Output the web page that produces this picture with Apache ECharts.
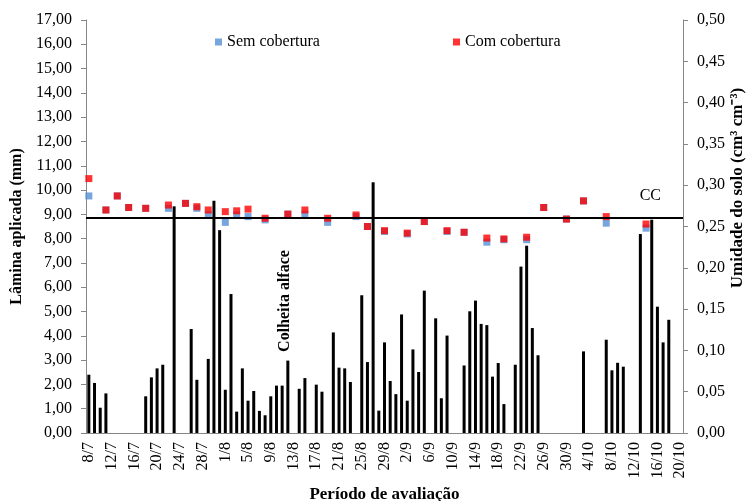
<!DOCTYPE html>
<html>
<head>
<meta charset="utf-8">
<script src="https://cdn.jsdelivr.net/npm/echarts@6/dist/echarts.min.js"></script>
<style>
html, body { margin: 0; padding: 0; background: #fff; }
#chart { width: 751px; height: 501px; }
</style>
</head>
<body>
<div id="chart"></div>
<script>
var dias = [
	'8/7','9/7','10/7','11/7','12/7','13/7','14/7','15/7','16/7','17/7','18/7','19/7','20/7','21/7','22/7','23/7',
	'24/7','25/7','26/7','27/7','28/7','29/7','30/7','31/7',
	'1/8','2/8','3/8','4/8','5/8','6/8','7/8','8/8','9/8','10/8','11/8','12/8','13/8','14/8','15/8','16/8',
	'17/8','18/8','19/8','20/8','21/8','22/8','23/8','24/8','25/8','26/8','27/8','28/8','29/8','30/8','31/8',
	'1/9','2/9','3/9','4/9','5/9','6/9','7/9','8/9','9/9','10/9','11/9','12/9','13/9','14/9','15/9','16/9',
	'17/9','18/9','19/9','20/9','21/9','22/9','23/9','24/9','25/9','26/9','27/9','28/9','29/9','30/9',
	'1/10','2/10','3/10','4/10','5/10','6/10','7/10','8/10','9/10','10/10','11/10','12/10','13/10','14/10',
	'15/10','16/10','17/10','18/10','19/10','20/10'
];

// lamina aplicada (mm) - barras
var laminaDias = ['8/7','9/7','10/7','11/7','18/7','19/7','20/7','21/7','23/7','26/7','27/7','29/7','30/7','31/7',
	'1/8','2/8','3/8','4/8','5/8','6/8','7/8','8/8','9/8','10/8','11/8','12/8','14/8','15/8','17/8','18/8',
	'20/8','21/8','22/8','23/8','25/8','26/8','27/8','28/8','29/8','30/8','31/8',
	'1/9','2/9','3/9','4/9','5/9','7/9','8/9','9/9','12/9','13/9','14/9','15/9','16/9','17/9','18/9','19/9',
	'21/9','22/9','23/9','24/9','25/9',
	'3/10','7/10','8/10','9/10','10/10','13/10','15/10','16/10','17/10','18/10'];
var lamina = [2.40,2.06,1.04,1.63,1.51,2.29,2.66,2.81,9.33,4.28,2.19,3.05,9.56,8.35,
	1.78,5.72,0.88,2.66,1.33,1.73,0.91,0.73,1.51,1.95,1.95,2.98,1.82,2.26,1.99,1.70,
	4.14,2.69,2.66,2.10,5.67,2.92,10.32,0.92,3.73,2.14,1.60,
	4.88,1.33,3.44,2.51,5.86,4.72,1.43,4.01,2.78,5.01,5.45,4.49,4.44,2.32,2.88,1.19,
	2.81,6.85,7.71,4.32,3.20,
	3.36,3.84,2.58,2.89,2.73,8.19,8.78,5.20,3.73,4.66];

// umidade do solo (cm3 cm-3)
var umidDias = ['8/7','11/7','13/7','15/7','18/7','22/7','25/7','27/7','29/7','1/8','3/8','5/8','8/8','12/8',
	'15/8','19/8','24/8','26/8','29/8','2/9','5/9','9/9','12/9','16/9','19/9','23/9','26/9','30/9','3/10','7/10','14/10'];
var semCobertura = [0.287,0.270,0.287,0.273,0.272,0.272,0.278,0.272,0.264,0.255,0.264,0.262,0.258,0.265,
	0.265,0.255,0.262,0.250,0.244,0.241,0.256,0.244,0.243,0.231,0.234,0.234,0.273,0.259,0.281,0.254,0.248];
var comCobertura = [0.308,0.270,0.287,0.273,0.272,0.276,0.278,0.274,0.270,0.268,0.269,0.271,0.260,0.265,
	0.270,0.260,0.264,0.250,0.245,0.242,0.256,0.245,0.243,0.236,0.235,0.237,0.273,0.259,0.281,0.262,0.253];

var cc = 0.258;

function pares(x, y){
	return x.map(function(d, i){ return [d, y[i]]; });
}
function virgula(v){
	return v.toFixed(2).replace('.', ',');
}

var fonte = 'Liberation Serif';
var myChart = echarts.init(document.getElementById('chart'));
myChart.setOption({
	animation : false,
	textStyle : { fontFamily : fonte, color : '#000' },
	grid : { left : 86, right : 68, top : 20, bottom : 68, outerBoundsMode : 'none' },
	legend : [ {
		data : [ 'Sem cobertura' ],
		left : 210, top : 29,
		icon : 'rect', itemWidth : 7, itemHeight : 7, itemGap : 5,
		textStyle : { fontFamily : fonte, fontSize : 16, color : '#000' }
	}, {
		data : [ 'Com cobertura' ],
		left : 448, top : 29,
		icon : 'rect', itemWidth : 7, itemHeight : 7, itemGap : 5,
		textStyle : { fontFamily : fonte, fontSize : 16, color : '#000' }
	} ],
	xAxis : [ {
		type : 'category',
		data : dias,
		name : 'Período de avaliação',
		nameLocation : 'middle',
		nameGap : 48,
		nameTextStyle : { fontFamily : fonte, fontSize : 17, fontWeight : 'bold', color : '#000' },
		axisLine : { lineStyle : { color : '#868686' } },
		axisTick : { interval : 3, length : 5, lineStyle : { color : '#868686' } },
		axisLabel : { interval : 3, rotate : 90, fontSize : 16, color : '#000', margin : 9 }
	} ],
	yAxis : [ {
		type : 'value',
		min : 0, max : 17, interval : 1,
		name : 'Lâmina aplicada (mm)',
		nameLocation : 'middle',
		nameGap : 60,
		nameTextStyle : { fontFamily : fonte, fontSize : 16, fontWeight : 'bold', color : '#000' },
		splitLine : { show : false },
		axisLine : { show : true, lineStyle : { color : '#868686' } },
		axisTick : { show : true, length : 5, lineStyle : { color : '#868686' } },
		axisLabel : { fontSize : 16, color : '#000', margin : 14, formatter : virgula }
	}, {
		type : 'value',
		min : 0, max : 0.5, interval : 0.05,
		splitLine : { show : false },
		axisLine : { show : true, lineStyle : { color : '#868686' } },
		axisTick : { show : true, length : 5, lineStyle : { color : '#868686' } },
		axisLabel : { fontSize : 16, color : '#000', margin : 14, formatter : virgula }
	} ],
	series : [ {
		name : 'Lâmina',
		type : 'bar',
		barWidth : 3,
		itemStyle : { color : '#000' },
		data : pares(laminaDias, lamina)
	}, {
		name : 'Sem cobertura',
		type : 'scatter',
		yAxisIndex : 1,
		symbol : 'rect',
		symbolSize : 7,
		itemStyle : { color : '#558ED5' },
		data : pares(umidDias, semCobertura)
	}, {
		name : 'Com cobertura',
		type : 'scatter',
		yAxisIndex : 1,
		symbol : 'rect',
		symbolSize : 7,
		itemStyle : { color : '#FF0000' },
		data : pares(umidDias, comCobertura),
		markLine : {
			silent : true,
			symbol : 'none',
			lineStyle : { color : '#000', width : 2, type : 'solid' },
			label : {
				position : 'insideEndTop',
				formatter : 'CC',
				fontFamily : fonte, fontSize : 16, color : '#000',
				distance : [ 22, 14 ]
			},
			data : [ { yAxis : cc } ]
		}
	} ],
	graphic : [ {
		type : 'text',
		x : 285, y : 301,
		rotation : Math.PI / 2,
		style : {
			text : 'Colheita alface',
			font : 'bold 16px "Liberation Serif"',
			fill : '#000',
			align : 'center',
			verticalAlign : 'middle'
		}
	}, {
		type : 'text',
		x : 738, y : 188,
		rotation : Math.PI / 2,
		style : {
			text : 'Umidade do solo (cm³ cm⁻³)',
			font : 'bold 17px "Liberation Serif"',
			fill : '#000',
			align : 'center',
			verticalAlign : 'middle'
		}
	} ]
});
</script>
</body>
</html>
